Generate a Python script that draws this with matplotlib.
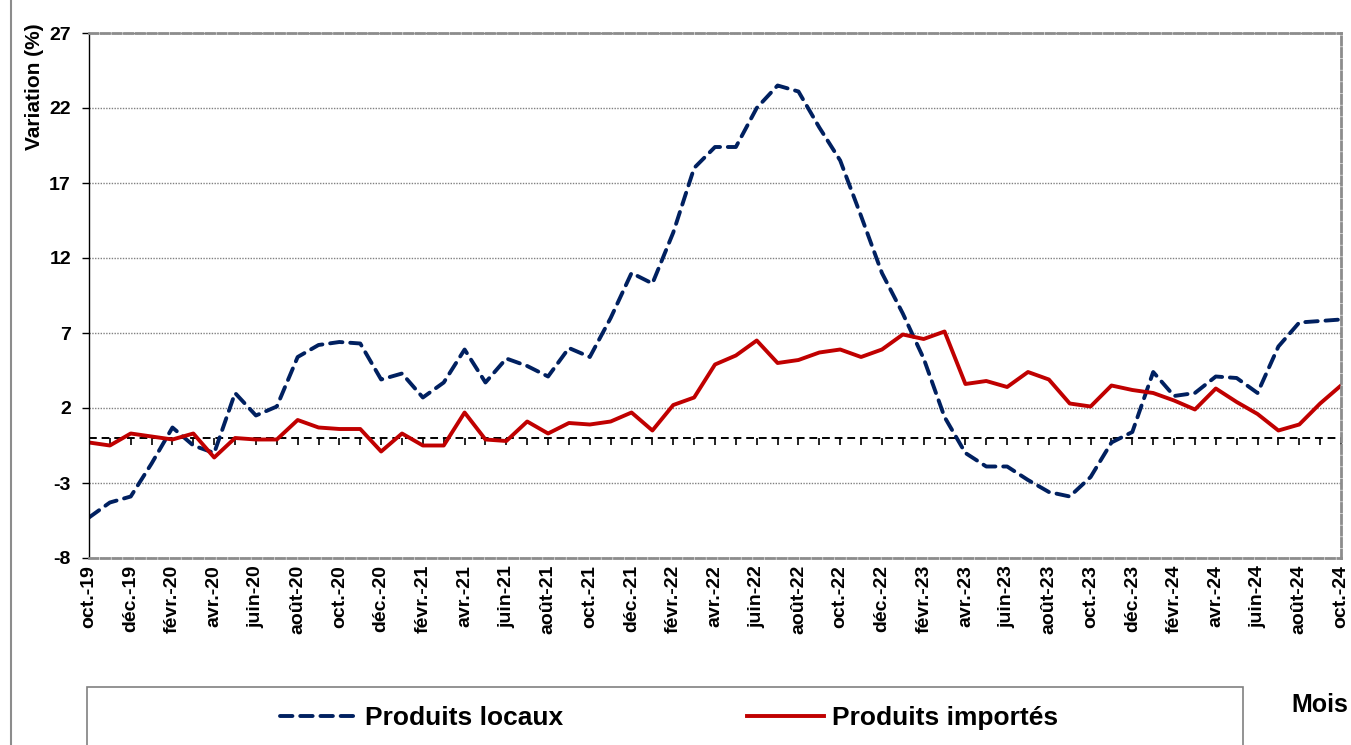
import matplotlib
matplotlib.use("Agg")
import matplotlib.pyplot as plt
from matplotlib.lines import Line2D
from matplotlib.patches import Rectangle

# monthly data, oct. 2019 -> oct. 2024
months = ["janv.", "févr.", "mars", "avr.", "mai", "juin",
          "juil.", "août", "sept.", "oct.", "nov.", "déc."]

locaux = [-5.3, -4.3, -3.9, -1.7, 0.7, -0.5, -1.0, 3.0, 1.5, 2.1,
          5.4, 6.2, 6.4, 6.3, 3.9, 4.3, 2.7, 3.7, 5.9, 3.7,
          5.3, 4.8, 4.1, 6.0, 5.4, 8.0, 11.0, 10.3, 13.7, 18.0,
          19.4, 19.4, 22.0, 23.5, 23.1, 20.7, 18.5, 14.8, 11.0, 8.3,
          5.3, 1.4, -1.0, -1.9, -1.9, -2.8, -3.6, -3.9, -2.6, -0.3,
          0.4, 4.4, 2.8, 3.0, 4.1, 4.0, 3.0, 6.1, 7.7, 7.8, 7.9]

importes = [-0.3, -0.5, 0.3, 0.1, -0.1, 0.3, -1.3, 0.0, -0.1, -0.1,
            1.2, 0.7, 0.6, 0.6, -0.9, 0.3, -0.5, -0.5, 1.7, -0.1,
            -0.2, 1.1, 0.3, 1.0, 0.9, 1.1, 1.7, 0.5, 2.2, 2.7,
            4.9, 5.5, 6.5, 5.0, 5.2, 5.7, 5.9, 5.4, 5.9, 6.9,
            6.6, 7.1, 3.6, 3.8, 3.4, 4.4, 3.9, 2.3, 2.1, 3.5,
            3.2, 3.0, 2.5, 1.9, 3.3, 2.4, 1.6, 0.5, 0.9, 2.3, 3.5]

yticks = [-8, -3, 2, 7, 12, 17, 22, 27]

labels = []
for k in range(len(locaux)):
    m = (9 + k) % 12
    y = 19 + (9 + k) // 12
    labels.append("{}-{}".format(months[m], y))
x = list(range(len(locaux)))

plt.rcParams['font.family'] = ['Liberation Sans', 'DejaVu Sans']
narrow = ['Liberation Sans Narrow', 'Liberation Sans', 'DejaVu Sans']

fig = plt.figure(figsize=(13.51, 7.45), dpi=100)
ax = fig.add_axes([89 / 1351, 1 - 558 / 745, 1252 / 1351, 525 / 745])

ax.plot(x, locaux, color="#002060", lw=2.8, ls=(0, (3.2, 2.0)),
        label="Produits locaux", dash_capstyle="round")
ax.plot(x, importes, color="#C00000", lw=2.8, label="Produits importés")

# zero line with monthly tick marks
ax.axhline(0, color="black", lw=1.4, ls=(0, (4, 2.5)), zorder=1)
ax.plot(x, [0] * len(x), ls="none", marker=3, markersize=5,
        markeredgewidth=1.2, color="black", zorder=1)

ax.set_xlim(0, len(x) - 1)
ax.set_ylim(-8, 27)
ax.set_yticks(yticks)
ax.set_yticklabels([str(t) for t in yticks], fontsize=14, fontweight="bold")
ax.set_xticks(x[::2])
ax.set_xticklabels(labels[::2], rotation=90, fontsize=14, fontweight="bold")
ax.tick_params(axis="x", length=0, pad=5)
ax.tick_params(axis="y", length=5, width=1, direction="out", pad=8, color="black")

ax.yaxis.grid(True, ls=(0, (1, 1)), color="#808080", lw=1)
ax.set_axisbelow(True)

for s in ["top", "right", "bottom"]:
    ax.spines[s].set_color("#8c8c8c")
    ax.spines[s].set_linestyle((0, (3, 1.2)))
    ax.spines[s].set_linewidth(2)
ax.spines["left"].set_color("black")
ax.spines["left"].set_linewidth(1)

fig.text(35 / 1351, 1 - 87 / 745, "Variation (%)", rotation=90,
         ha="center", va="center", fontsize=15, fontweight="bold")
fig.text(1320 / 1351, 1 - 705 / 745, "Mois", ha="center", va="center",
         fontsize=18, fontweight="bold", family=narrow)

# outer chart border (left side)
fig.add_artist(Line2D([11 / 1351, 11 / 1351], [0, 1], color="#8c8c8c", lw=1.5))

# legend box
fig.add_artist(Rectangle((87 / 1351, -0.05), (1243 - 87) / 1351, 0.05 + 1 - 687 / 745,
                         transform=fig.transFigure, fill=False,
                         edgecolor="#808080", lw=1.2))
leg = fig.legend(loc="center", bbox_to_anchor=(669 / 1351, 1 - 718 / 745),
                 ncol=2, frameon=False, handlelength=2.9, handletextpad=0.3,
                 columnspacing=7.0,
                 prop={"family": narrow, "weight": "bold", "size": 19})

fig.savefig("out.png", dpi=100)
